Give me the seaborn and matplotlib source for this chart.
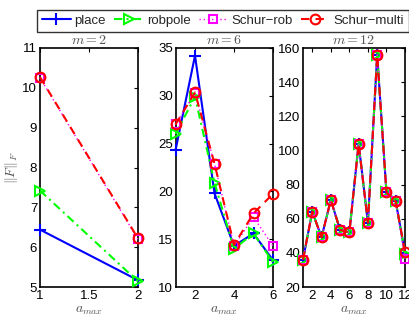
import numpy as np
import pandas as pd
import matplotlib
matplotlib.use("Agg")
import matplotlib.pyplot as plt
import seaborn as sns

sns.set_theme(style="white")
plt.rcParams['font.family'] = ['Liberation Sans', 'DejaVu Sans']
plt.rcParams['mathtext.fontset'] = 'cm'

series = ["place", "robpole", "Schur\u2212rob", "Schur\u2212multi"]

# m = 2
x_m2 = [1, 2]
place_m2 = [6.44, 5.17]
robpole_m2 = [7.42, 5.14]
schurrob_m2 = [10.25, 6.2]
schurmulti_m2 = [10.27, 6.22]

# m = 6
x_m6 = [1, 2, 3, 4, 5, 6]
place_m6 = [24.3, 34.2, 19.8, 14.3, 15.6, 12.8]
robpole_m6 = [26.0, 29.9, 20.9, 14.0, 15.6, 12.6]
schurrob_m6 = [27.0, 30.3, 22.9, 14.3, 17.3, 14.3]
schurmulti_m6 = [27.0, 30.35, 22.9, 14.4, 17.7, 19.75]

# m = 12
x_m12 = [1, 2, 3, 4, 5, 6, 7, 8, 9, 10, 11, 12]
place_m12 = [36, 64.2, 49.1, 71.0, 53.4, 52.0, 104.0, 57.7, 155.9, 75.4, 70.1, 40.0]
robpole_m12 = [36, 64.2, 49.1, 71.0, 53.4, 52.0, 104.0, 57.7, 155.9, 75.4, 70.1, 39.5]
schurrob_m12 = [36, 64.2, 49.1, 71.0, 53.4, 52.0, 104.0, 57.7, 155.9, 75.4, 70.1, 36.5]
schurmulti_m12 = [36, 64.2, 49.1, 71.0, 53.4, 52.0, 104.0, 57.7, 155.9, 75.4, 70.1, 40.5]

titles = ["$m=2$", "$m=6$", "$m=12$"]
ylims = [(5, 11), (10, 35), (20, 160)]
xlims = [(1, 2), (1, 6), (1, 12)]
xticks = [[1, 1.5, 2], [2, 4, 6], [2, 4, 6, 8, 10, 12]]
yticks = [[5, 6, 7, 8, 9, 10, 11], [10, 15, 20, 25, 30, 35], [20, 40, 60, 80, 100, 120, 140, 160]]
xtick_labels = [["1", "1.5", "2"], ["2", "4", "6"], ["2", "4", "6", "8", "10", "12"]]

panels = [
    (x_m2, [place_m2, robpole_m2, schurrob_m2, schurmulti_m2]),
    (x_m6, [place_m6, robpole_m6, schurrob_m6, schurmulti_m6]),
    (x_m12, [place_m12, robpole_m12, schurrob_m12, schurmulti_m12]),
]

styles = [
    dict(color="#0000ff", linestyle="-", marker="+", markersize=8, mfc="#0000ff", lw=1.5),
    dict(color="#00ff00", linestyle=(0, (4, 2, 1, 2)), marker=">", markersize=7, mfc="none", lw=1.5),
    dict(color="#ff00ff", linestyle=(0, (1, 2)), marker="s", markersize=6, mfc="none", lw=1.0),
    dict(color="#ff0000", linestyle=(0, (4, 3)), marker="o", markersize=7, mfc="none", lw=1.5),
]

W, H = 409, 318
fig = plt.figure(figsize=(W / 100, H / 100), dpi=100)
boxes = [(40, 138), (175.5, 273), (303, 405)]
top, bottom = 48, 287
axes = []
for (l, r) in boxes:
    ax = fig.add_axes([l / W, 1 - bottom / H, (r - l) / W, (bottom - top) / H])
    axes.append(ax)

gray = "#555555"
for i, ax in enumerate(axes):
    xs, ys_list = panels[i]
    for name, ys, st in zip(series, ys_list, styles):
        df = pd.DataFrame({"x": xs, "y": ys})
        sns.lineplot(data=df, x="x", y="y", ax=ax, color=st["color"], linestyle=st["linestyle"],
                     marker=st["marker"], markersize=st["markersize"], markerfacecolor=st["mfc"],
                     markeredgecolor=st["color"], markeredgewidth=1.5, linewidth=st["lw"],
                     label=name, legend=False, clip_on=False, zorder=3)
    ax.set_xlim(*xlims[i])
    ax.set_ylim(*ylims[i])
    ax.set_xticks(xticks[i])
    ax.set_xticklabels(xtick_labels[i])
    ax.set_yticks(yticks[i])
    ax.tick_params(direction="in", length=3, width=0.8, top=True, right=True,
                   labelsize=9.5, pad=2, colors="black")
    for sp in ax.spines.values():
        sp.set_color("black")
        sp.set_linewidth(1.2)
        sp.set_visible(True)
    ax.set_title(titles[i], fontsize=10, color=gray, pad=3)
    ax.set_xlabel("$a_{max}$", fontsize=10, color=gray, labelpad=1)
    ax.set_ylabel("")

axes[0].set_ylabel("$\\|F\\|_F$", fontsize=10, color=gray, labelpad=2)

handles, labels = axes[0].get_legend_handles_labels()
leg = fig.legend(handles, labels, ncol=4, loc="center",
                 bbox_to_anchor=((38 + 408) / 2 / W, 1 - 21 / H),
                 fontsize=9.5, frameon=True, fancybox=False, edgecolor="black",
                 handlelength=2.2, handletextpad=0.3, columnspacing=0.6,
                 borderpad=0.38, borderaxespad=0)
leg.get_frame().set_linewidth(1.0)

fig.savefig("out.png", dpi=100)
